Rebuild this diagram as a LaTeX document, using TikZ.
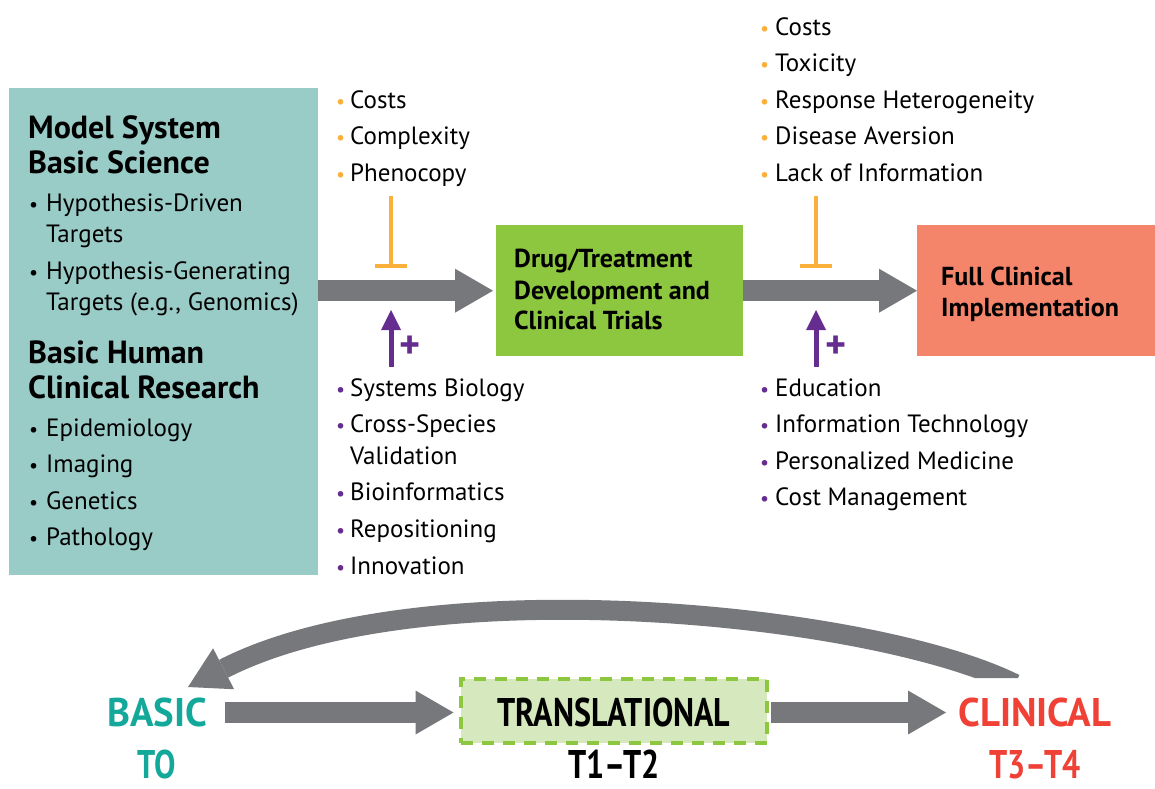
\documentclass[tikz,border=0pt]{standalone}
\usepackage{fontspec}
\setmainfont{PT Sans}
\newfontfamily\condfont[FakeStretch=0.8]{PT Sans}
\newfontfamily\semicondfont[FakeStretch=0.97]{PT Sans}
\usetikzlibrary{arrows.meta}
\definecolor{tealbox}{HTML}{99CBC7}
\definecolor{drugg}{HTML}{8DC63F}
\definecolor{salmon}{HTML}{F4846A}
\definecolor{arrowgray}{HTML}{77787B}
\definecolor{orng}{HTML}{FBB03B}
\definecolor{purp}{HTML}{662D91}
\definecolor{transfill}{HTML}{D6E9BE}
\definecolor{basicteal}{HTML}{14A89A}
\definecolor{clinred}{HTML}{EF4136}
\newcommand\bul[2]{\makebox[#2][l]{\textcolor{#1}{\scalebox{0.8}{•}}}}
\begin{document}
\begin{tikzpicture}[x=1pt,y=-1pt,
  body/.style={anchor=base west, inner sep=0, font=\fontsize{25}{28}\selectfont},
  head/.style={anchor=base west, inner sep=0, font=\fontsize{32}{32}\selectfont\bfseries},
  boxtext/.style={anchor=base west, inner sep=0, font=\fontsize{26}{28}\selectfont\bfseries},
  botlab/.style={anchor=base, inner sep=0, font=\condfont\bfseries\fontsize{40}{40}\selectfont},
  botwide/.style={anchor=base, inner sep=0, font=\semicondfont\bfseries\fontsize{40}{40}\selectfont},
  bigarrow/.style={draw=arrowgray, line width=21pt, -{Triangle[length=38pt,width=44pt,line width=0pt]}},
  inhib/.style={draw=orng, line width=4pt, -{Bar[width=32pt,line width=4pt]}},
  promote/.style={draw=purp, line width=5pt, -{Triangle[length=20pt,width=20pt,line width=0pt]}},
  plus/.style={inner sep=0, text=purp, font=\fontsize{40}{40}\selectfont\bfseries}
]
\useasboundingbox (0,0) rectangle (1155,788);

% boxes
\node[fill=tealbox, minimum width=309pt, minimum height=487pt, anchor=north west, inner sep=0] (basic) at (9,88) {};
\node[fill=drugg, minimum width=247pt, minimum height=131pt, anchor=north west, inner sep=0] (drug) at (496,225) {};
\node[fill=salmon, minimum width=238pt, minimum height=131pt, anchor=north west, inner sep=0] (full) at (917,225) {};

% left box text
\node[head] (h1) at (28,138) {Model System};
\node[head] (h2) at (28,173) {Basic Science};
\node[body] (l1) at (29,211) {\bul{black}{17pt}Hypothesis-Driven};
\node[body] (l2) at (46,242) {Targets};
\node[body] (l3) at (29,279) {\bul{black}{17pt}Hypothesis-Generating};
\node[body] (l4) at (46,310) {Targets (e.g., Genomics)};
\node[head] (h3) at (28,363) {Basic Human};
\node[head] (h4) at (28,398) {Clinical Research};
\node[body] (l5) at (29,436) {\bul{black}{17pt}Epidemiology};
\node[body] (l6) at (29,472) {\bul{black}{17pt}Imaging};
\node[body] (l7) at (29,509) {\bul{black}{17pt}Genetics};
\node[body] (l8) at (29,545) {\bul{black}{17pt}Pathology};

% green box text
\node[boxtext] (d1) at (514,267) {Drug/Treatment};
\node[boxtext] (d2) at (514,299) {Development and};
\node[boxtext] (d3) at (514,329) {Clinical Trials};

% salmon box text
\node[boxtext] (f1) at (941,285) {Full Clinical};
\node[boxtext] (f2) at (941,316) {Implementation};

% barriers 1
\node[body] (b11) at (336,108) {\bul{orng}{14pt}Costs};
\node[body] (b12) at (336,144.6) {\bul{orng}{14pt}Complexity};
\node[body] (b13) at (336,181.2) {\bul{orng}{14pt}Phenocopy};

% barriers 2
\node[body] (b21) at (760,35) {\bul{orng}{15pt}Costs};
\node[body] (b22) at (760,71.6) {\bul{orng}{15pt}Toxicity};
\node[body] (b23) at (760,108.2) {\bul{orng}{15pt}Response Heterogeneity};
\node[body] (b24) at (760,144.8) {\bul{orng}{15pt}Disease Aversion};
\node[body] (b25) at (760,181.4) {\bul{orng}{15pt}Lack of Information};

% enablers 1
\node[body] (e11) at (336,396) {\bul{purp}{14pt}Systems Biology};
\node[body] (e12) at (336,432) {\bul{purp}{14pt}Cross-Species};
\node[body] (e13) at (350,464) {Validation};
\node[body] (e14) at (336,500) {\bul{purp}{14pt}Bioinformatics};
\node[body] (e15) at (336,537) {\bul{purp}{14pt}Repositioning};
\node[body] (e16) at (336,574) {\bul{purp}{14pt}Innovation};

% enablers 2
\node[body] (e21) at (760,396) {\bul{purp}{15pt}Education};
\node[body] (e22) at (760,432.6) {\bul{purp}{15pt}Information Technology};
\node[body] (e23) at (760,469.2) {\bul{purp}{15pt}Personalized Medicine};
\node[body] (e24) at (760,505.8) {\bul{purp}{15pt}Cost Management};

% main arrows
\draw[bigarrow, shorten >=3pt] (basic.east |- drug.west) -- (drug.west);
\draw[bigarrow] (drug.east) -- (full.west);

% inhibitors and promoters
\coordinate (i1s) at (391,196); \coordinate (i1e) at (391,268);
\coordinate (i2s) at (816,196); \coordinate (i2e) at (816,268);
\draw[inhib] (i1s) -- (i1e);
\draw[inhib] (i2s) -- (i2e);
\coordinate (p1s) at (391,367); \coordinate (p1e) at (391,310);
\coordinate (p2s) at (816,367); \coordinate (p2e) at (816,310);
\draw[promote] (p1s) -- (p1e);
\draw[promote] (p2s) -- (p2e);
\node[plus] (plus1) at (410,347) {+};
\node[plus] (plus2) at (836,347) {+};

% bottom
\node[botwide, text=basicteal] (basicL) at (157,726) {BASIC};
\node[botlab, text=basicteal] (basicT) at (157,778) {TO};
\node[fill=transfill, draw=drugg, line width=4pt, dash pattern=on 12pt off 9pt, minimum width=306pt, minimum height=64pt, inner sep=0] (trans) at (613.5,710.5) {};
\node[botlab, text=black] (transL) at (614,726) {TRANSLATIONAL};
\node[botlab, text=black] (transT) at (614,778) {T1–T2};
\node[botwide, text=clinred] (clinL) at (1035,726) {CLINICAL};
\node[botlab, text=clinred] (clinT) at (1035,778) {T3–T4};

\coordinate (a1s) at (225,712.5);
\draw[bigarrow, shorten >=5pt] (a1s) -- (trans.west |- a1s);
\draw[bigarrow, shorten <=2pt] (trans.east |- a1s) -- (946,712.5);

% curved feedback arrow
\coordinate (cs) at (1015,684);
\coordinate (ce) at (188,687);
\begin{scope}
\clip (0,0) -- (1155,0) -- (1155,678) -- (600,678) -- (600,788) -- (0,788) -- cycle;
\draw[draw=arrowgray, line width=20pt, -{Triangle[length=40pt,width=46pt,line width=0pt]}]
  (cs) .. controls (870,612) and (420,568) .. (ce);
\end{scope}
\end{tikzpicture}
\end{document}
